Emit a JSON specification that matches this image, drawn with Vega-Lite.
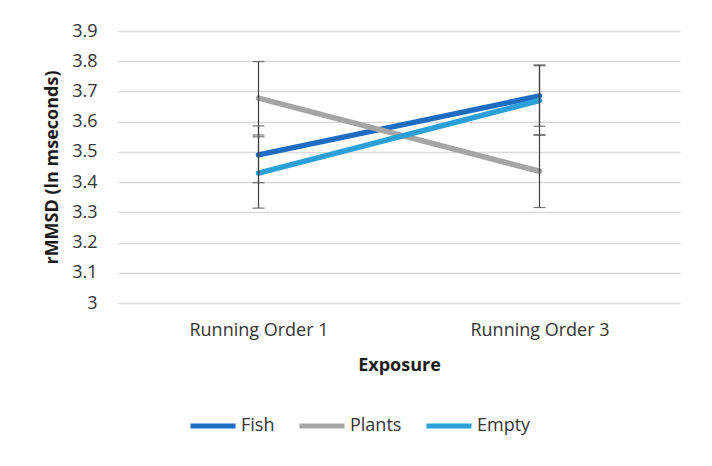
{
  "$schema": "https://vega.github.io/schema/vega-lite/v6.json",
  "autosize": "none",
  "width": 562,
  "height": 272,
  "padding": {"left": 118, "top": 31, "right": 32, "bottom": 163},
  "background": "white",
  "config": {
    "view": {"stroke": null},
    "font": "Open Sans",
    "axis": {"labelFont": "Open Sans", "titleFont": "Open Sans", "labelColor": "#333333", "titleColor": "#1a1a1a"}
  },
  "data": {
    "values": [
      {"exposure": "Running Order 1", "series": "Fish", "value": 3.49, "low": 3.398, "high": 3.586},
      {"exposure": "Running Order 3", "series": "Fish", "value": 3.685, "low": 3.585, "high": 3.788},
      {"exposure": "Running Order 1", "series": "Plants", "value": 3.678, "low": 3.556, "high": 3.799},
      {"exposure": "Running Order 3", "series": "Plants", "value": 3.436, "low": 3.316, "high": 3.556},
      {"exposure": "Running Order 1", "series": "Empty", "value": 3.43, "low": 3.314, "high": 3.55},
      {"exposure": "Running Order 3", "series": "Empty", "value": 3.67, "low": 3.556, "high": 3.785}
    ]
  },
  "encoding": {
    "x": {
      "field": "exposure", "type": "ordinal",
      "scale": {"type": "point", "padding": 0.5},
      "axis": {"title": "Exposure", "labelAngle": 0, "ticks": false, "domain": false, "grid": false,
               "labelFontSize": 18, "labelPadding": 18, "titleFontSize": 18, "titleFontWeight": "bold", "titlePadding": 17}
    }
  },
  "layer": [
    {
      "mark": {"type": "line", "strokeWidth": 5.5, "strokeCap": "round"},
      "encoding": {
        "y": {
          "field": "value", "type": "quantitative",
          "scale": {"domain": [3, 3.9001], "zero": false, "nice": false},
          "axis": {"title": "rMMSD (ln mseconds)", "values": [3, 3.1, 3.2, 3.3, 3.4, 3.5, 3.6, 3.7, 3.8, 3.9],
                   "labelExpr": "datum.value == 3 ? '3' : format(datum.value, '.1f')",
                   "labelOverlap": false,
                   "ticks": false, "domain": false, "gridColor": "#d9d9d9", "gridWidth": 1.5,
                   "labelFontSize": 18, "labelPadding": 21, "titleFontSize": 18, "titleFontWeight": "bold", "titlePadding": 10}
        },
        "color": {
          "field": "series", "type": "nominal",
          "scale": {"domain": ["Fish", "Plants", "Empty"], "range": ["#1F6DC2", "#A5A5A5", "#2A9FD8"]},
          "legend": {"title": null, "orient": "none", "direction": "horizontal", "legendX": 70, "legendY": 370,
                     "symbolType": "stroke", "symbolStrokeWidth": 5, "symbolSize": 2025,
                     "labelFont": "Open Sans", "labelFontSize": 18, "labelColor": "#333333", "columnPadding": 14, "labelOffset": 3}
        },
        "detail": {"field": "series"}
      }
    },
    {
      "mark": {"type": "rule", "color": "#404040", "strokeWidth": 1.2},
      "encoding": {
        "y": {"field": "low", "type": "quantitative",
              "axis": {"title": "rMMSD (ln mseconds)", "values": [3, 3.1, 3.2, 3.3, 3.4, 3.5, 3.6, 3.7, 3.8, 3.9],
                   "labelExpr": "datum.value == 3 ? '3' : format(datum.value, '.1f')",
                   "labelOverlap": false,
                   "ticks": false, "domain": false, "gridColor": "#d9d9d9", "gridWidth": 1.5,
                   "labelFontSize": 18, "labelPadding": 21, "titleFontSize": 18, "titleFontWeight": "bold", "titlePadding": 10}},
        "y2": {"field": "high"}
      }
    },
    {
      "mark": {"type": "tick", "color": "#404040", "thickness": 1.2, "size": 12, "orient": "horizontal"},
      "encoding": {"y": {"field": "low", "type": "quantitative",
              "axis": {"title": "rMMSD (ln mseconds)", "values": [3, 3.1, 3.2, 3.3, 3.4, 3.5, 3.6, 3.7, 3.8, 3.9],
                   "labelExpr": "datum.value == 3 ? '3' : format(datum.value, '.1f')",
                   "labelOverlap": false,
                   "ticks": false, "domain": false, "gridColor": "#d9d9d9", "gridWidth": 1.5,
                   "labelFontSize": 18, "labelPadding": 21, "titleFontSize": 18, "titleFontWeight": "bold", "titlePadding": 10}}}
    },
    {
      "mark": {"type": "tick", "color": "#404040", "thickness": 1.2, "size": 12, "orient": "horizontal"},
      "encoding": {"y": {"field": "high", "type": "quantitative",
              "axis": {"title": "rMMSD (ln mseconds)", "values": [3, 3.1, 3.2, 3.3, 3.4, 3.5, 3.6, 3.7, 3.8, 3.9],
                   "labelExpr": "datum.value == 3 ? '3' : format(datum.value, '.1f')",
                   "labelOverlap": false,
                   "ticks": false, "domain": false, "gridColor": "#d9d9d9", "gridWidth": 1.5,
                   "labelFontSize": 18, "labelPadding": 21, "titleFontSize": 18, "titleFontWeight": "bold", "titlePadding": 10}}}
    }
  ]
}
